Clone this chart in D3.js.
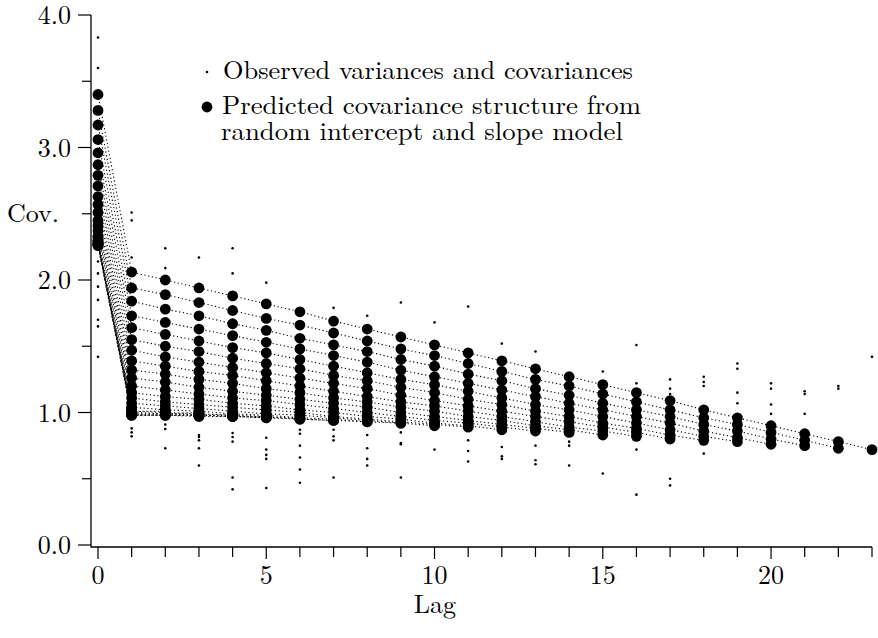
<!DOCTYPE html>
<html>
<head>
<meta charset="utf-8">
<script src="https://cdn.jsdelivr.net/npm/d3@7/dist/d3.min.js"></script>
<style>
  html, body { margin: 0; padding: 0; background: #fff; }
  svg { display: block; }
</style>
</head>
<body>
<div id="chart"></div>
<script>
// predicted covariance, one row per first measurement time; row[k] is the value at lag k
const predictedByStart = [
  [3.40, 2.06, 2.00, 1.94, 1.88, 1.82, 1.76, 1.69, 1.63, 1.57, 1.51, 1.45, 1.39, 1.33, 1.27, 1.21, 1.15, 1.09, 1.02, 0.96, 0.90, 0.84, 0.78, 0.72],
  [3.28, 1.94, 1.89, 1.83, 1.77, 1.71, 1.66, 1.60, 1.54, 1.48, 1.43, 1.37, 1.31, 1.25, 1.20, 1.14, 1.08, 1.02, 0.96, 0.91, 0.85, 0.79, 0.73],
  [3.17, 1.84, 1.78, 1.73, 1.67, 1.62, 1.56, 1.51, 1.46, 1.40, 1.35, 1.29, 1.24, 1.18, 1.13, 1.07, 1.02, 0.97, 0.91, 0.86, 0.80, 0.75],
  [3.06, 1.73, 1.68, 1.63, 1.58, 1.53, 1.48, 1.43, 1.38, 1.32, 1.27, 1.22, 1.17, 1.12, 1.07, 1.02, 0.97, 0.92, 0.86, 0.81, 0.76],
  [2.96, 1.64, 1.59, 1.54, 1.49, 1.45, 1.40, 1.35, 1.30, 1.25, 1.21, 1.16, 1.11, 1.06, 1.02, 0.97, 0.92, 0.87, 0.82, 0.78],
  [2.87, 1.55, 1.50, 1.46, 1.41, 1.37, 1.33, 1.28, 1.24, 1.19, 1.15, 1.10, 1.06, 1.01, 0.97, 0.92, 0.88, 0.83, 0.79],
  [2.79, 1.47, 1.42, 1.38, 1.34, 1.30, 1.26, 1.22, 1.18, 1.13, 1.09, 1.05, 1.01, 0.97, 0.93, 0.89, 0.85, 0.80],
  [2.71, 1.39, 1.35, 1.31, 1.28, 1.24, 1.20, 1.16, 1.12, 1.08, 1.05, 1.01, 0.97, 0.93, 0.89, 0.86, 0.82],
  [2.63, 1.32, 1.29, 1.25, 1.22, 1.18, 1.15, 1.11, 1.08, 1.04, 1.01, 0.97, 0.94, 0.90, 0.87, 0.83],
  [2.57, 1.26, 1.23, 1.19, 1.16, 1.13, 1.10, 1.07, 1.04, 1.00, 0.97, 0.94, 0.91, 0.88, 0.85],
  [2.51, 1.20, 1.17, 1.14, 1.11, 1.09, 1.06, 1.03, 1.00, 0.97, 0.94, 0.92, 0.89, 0.86],
  [2.45, 1.15, 1.12, 1.10, 1.07, 1.05, 1.02, 1.00, 0.97, 0.95, 0.92, 0.90, 0.87],
  [2.41, 1.11, 1.08, 1.06, 1.04, 1.02, 1.00, 0.97, 0.95, 0.93, 0.91, 0.89],
  [2.37, 1.07, 1.05, 1.03, 1.01, 0.99, 0.98, 0.96, 0.94, 0.92, 0.90],
  [2.33, 1.04, 1.02, 1.01, 0.99, 0.98, 0.96, 0.95, 0.93, 0.92],
  [2.30, 1.01, 1.00, 0.99, 0.98, 0.97, 0.95, 0.94, 0.93],
  [2.28, 1.00, 0.99, 0.98, 0.97, 0.96, 0.95, 0.94],
  [2.27, 0.98, 0.98, 0.97, 0.97, 0.96, 0.96],
  [2.26, 0.98, 0.98, 0.98, 0.97, 0.97],
  [2.26, 0.98, 0.98, 0.98, 0.98],
  [2.27, 0.99, 0.99, 1.00],
  [2.28, 1.01, 1.01],
  [2.29, 1.03],
  [2.32]
];

// observed variances / covariances that can be seen, by lag (index = lag)
const observedByLag = [
  [3.83, 3.60, 2.14, 2.05, 1.95, 1.85, 1.70, 1.65, 1.42],
  [2.51, 2.45, 2.17, 0.88, 0.85, 0.82],
  [2.24, 2.09, 0.91, 0.875, 0.73],
  [2.17, 0.83, 0.815, 0.79, 0.73, 0.60],
  [2.24, 2.05, 0.845, 0.815, 0.78, 0.51, 0.42],
  [1.98, 0.81, 0.72, 0.68, 0.65, 0.43],
  [0.87, 0.84, 0.75, 0.66, 0.57, 0.47],
  [1.79, 0.87, 0.82, 0.79, 0.51],
  [1.73, 0.83, 0.73, 0.65, 0.60],
  [1.83, 0.85, 0.77, 0.76, 0.51],
  [1.68, 0.72],
  [1.80, 0.79, 0.71, 0.63],
  [1.52, 0.74, 0.67, 0.65],
  [1.46, 0.75, 0.64, 0.61],
  [0.78, 0.75, 0.60],
  [1.31, 0.54],
  [1.51, 1.22, 0.72, 0.38],
  [1.25, 1.18, 1.14, 0.50, 0.45],
  [1.27, 1.23, 1.20, 0.69],
  [1.37, 1.33, 1.15, 1.07],
  [1.22, 1.18, 1.06, 0.99],
  [1.16, 1.14, 0.99],
  [1.20, 1.18],
  [1.42]
];

const xTicks = [0, 5, 10, 15, 20];
const yTicks = [0, 1, 2, 3, 4];
const legendLines = [
  "Observed variances and covariances",
  "Predicted covariance structure from",
  "random intercept and slope model"
];

const width = 878, height = 638;
const fontSize = 26;
const FONT = "Latin Modern Roman";

const svg = d3.select("#chart").append("svg")
  .attr("width", width)
  .attr("height", height);

const x = d3.scaleLinear().domain([0, 23]).range([98, 872]);
const y = d3.scaleLinear().domain([0, 4]).range([545, 15]);
const axisX = 91, axisY = 547;

// dotted connecting lines (fixed first time, increasing lag)
const line = d3.line()
  .x((d, i) => x(i))
  .y(d => y(d));

svg.append("g")
  .selectAll("path")
  .data(predictedByStart.filter(r => r.length > 1))
  .join("path")
  .attr("d", line)
  .attr("fill", "none")
  .attr("stroke", "#000")
  .attr("stroke-width", 1.1)
  .attr("stroke-dasharray", "1.2,2.6");

// predicted points
const pred = predictedByStart.flatMap(r => r.map((v, i) => ({lag: i, v: v})));
svg.append("g")
  .selectAll("circle")
  .data(pred)
  .join("circle")
  .attr("cx", d => x(d.lag))
  .attr("cy", d => y(d.v))
  .attr("r", 5.4)
  .attr("fill", "#000");

// observed points
const obs = observedByLag.flatMap((r, lag) => r.map(v => ({lag: lag, v: v})));
svg.append("g")
  .selectAll("circle")
  .data(obs)
  .join("circle")
  .attr("cx", d => x(d.lag))
  .attr("cy", d => y(d.v))
  .attr("r", 1.3)
  .attr("fill", "#000");

// axes
svg.append("line")
  .attr("x1", axisX).attr("x2", axisX)
  .attr("y1", y(4)).attr("y2", axisY + 0.5)
  .attr("stroke", "#000").attr("stroke-width", 1.3);
svg.append("line")
  .attr("x1", axisX).attr("x2", x(23))
  .attr("y1", axisY).attr("y2", axisY)
  .attr("stroke", "#000").attr("stroke-width", 1.3);

// y ticks: majors at 1.0, minors at 0.5
const yg = svg.append("g");
yg.selectAll("line")
  .data(d3.range(0, 4.01, 0.5))
  .join("line")
  .attr("x1", d => Number.isInteger(d) ? axisX - 13 : axisX - 9)
  .attr("x2", axisX)
  .attr("y1", d => y(d)).attr("y2", d => y(d))
  .attr("stroke", "#000").attr("stroke-width", 1.2);
yg.selectAll("text")
  .data(yTicks)
  .join("text")
  .attr("x", 71)
  .attr("y", d => y(d) + 9)
  .attr("text-anchor", "end")
  .attr("font-family", FONT)
  .attr("font-size", fontSize)
  .text(d => d.toFixed(1));

// x ticks every lag, labels every 5
const xg = svg.append("g");
xg.selectAll("line")
  .data(d3.range(0, 24))
  .join("line")
  .attr("x1", d => x(d)).attr("x2", d => x(d))
  .attr("y1", axisY)
  .attr("y2", d => d % 5 === 0 ? axisY + 12 : axisY + 10)
  .attr("stroke", "#000").attr("stroke-width", 1.2);
xg.selectAll("text")
  .data(xTicks)
  .join("text")
  .attr("x", d => x(d))
  .attr("y", 584)
  .attr("text-anchor", "middle")
  .attr("font-family", FONT)
  .attr("font-size", fontSize)
  .text(d => d);

svg.append("text")
  .attr("x", 435).attr("y", 613)
  .attr("text-anchor", "middle")
  .attr("font-family", FONT)
  .attr("font-size", fontSize)
  .text("Lag");

svg.append("text")
  .attr("x", 7).attr("y", 222)
  .attr("font-family", FONT)
  .attr("font-size", fontSize)
  .text("Cov.");

// legend
const lg = svg.append("g");
lg.append("circle").attr("cx", 207).attr("cy", 72).attr("r", 1.3).attr("fill", "#000");
lg.append("circle").attr("cx", 207).attr("cy", 107).attr("r", 5.4).attr("fill", "#000");
const legendX = [223, 222, 221];
const legendBase = [79, 114, 140];
const legendWidth = [410, 419, 402];
lg.selectAll("text")
  .data(legendLines)
  .join("text")
  .attr("x", (d, i) => legendX[i])
  .attr("y", (d, i) => legendBase[i])
  .attr("font-family", FONT)
  .attr("font-size", fontSize)
  .attr("textLength", (d, i) => legendWidth[i])
  .attr("lengthAdjust", "spacingAndGlyphs")
  .text(d => d);
</script>
</body>
</html>
